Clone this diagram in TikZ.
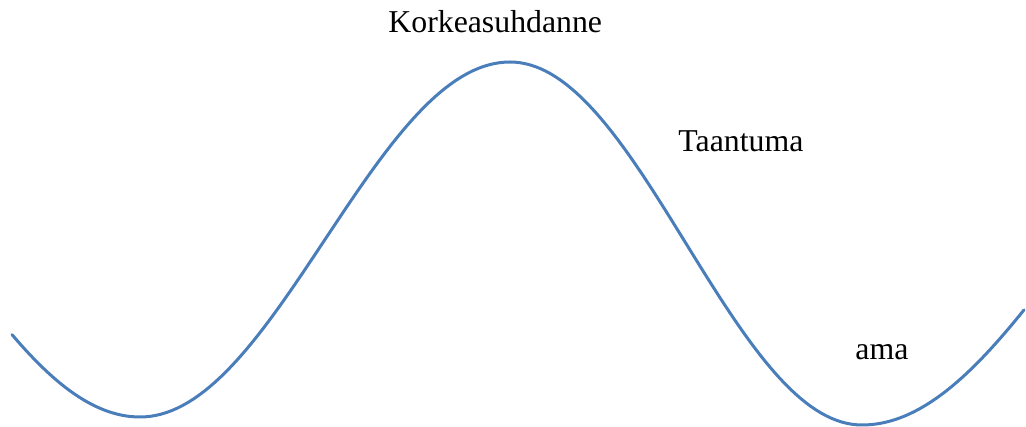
\documentclass[tikz,border=0pt]{standalone}
\usepackage{fontspec}
\setmainfont{Liberation Serif}
\definecolor{wave}{HTML}{4A7EBB}
\begin{document}
\begin{tikzpicture}[x=0.5pt,y=0.5pt,
  lbl/.style={anchor=base west,inner sep=0pt,font=\fontsize{15.9}{18}\selectfont},
  wavepen/.style={draw=wave,line width=1.5pt,line cap=round,line join=round}]
\useasboundingbox (0,0) rectangle (1026,427);
% curve (pixel y measured downward, flipped here)
\draw[wavepen]
  plot[domain=12:140,samples=30,variable=\x] ({\x},{427-(239.5+177.5*cos(0.45*(\x-140)))})
  -- plot[domain=140:510,samples=70,variable=\x] ({\x},{427-(239.5+177.5*cos(0.486486*(\x-140)))})
  -- plot[domain=510:862,samples=70,variable=\x] ({\x},{427-(243.5-181.5*cos(0.511364*(\x-510)))})
  -- plot[domain=862:1024,samples=35,variable=\x] ({\x},{427-(247.5+177.5*cos(0.428571*(\x-862)))});
\node[lbl] (k) at (388,394) {Korkeasuhdanne};
\node[lbl] (t) at (678,275) {Taantuma};
\node[lbl] (l) at (855,67) {ama};
\end{tikzpicture}
\end{document}
